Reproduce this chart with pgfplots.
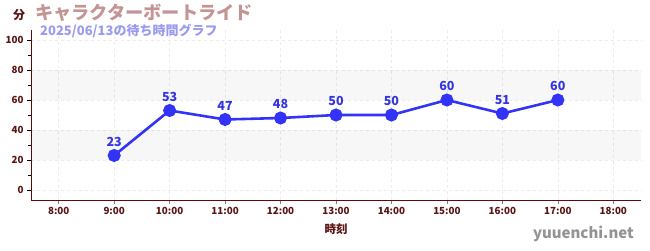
\documentclass[border=0pt]{standalone}
\usepackage{fontspec}
\setmainfont{Noto Sans CJK JP}
\usepackage{pgfplots}
\pgfplotsset{compat=1.18}
\definecolor{axred}{HTML}{5C0A0A}
\definecolor{ticklab}{HTML}{5A1414}
\definecolor{titlec}{HTML}{C49494}
\definecolor{subc}{HTML}{9A9AF0}
\definecolor{linec}{HTML}{3333F8}
\definecolor{labc}{HTML}{3535E0}
\definecolor{gridc}{HTML}{EBEBEB}
\begin{document}
\begin{tikzpicture}[x=1bp,y=1bp]
\path[use as bounding box] (0,0) rectangle (650,250);
\begin{axis}[
  at={(31bp,50bp)}, anchor=south west,
  width=610bp, height=170bp, scale only axis,
  xmin=7.5, xmax=18.5, ymin=-6.7, ymax=106.7,
  axis x line=bottom, axis y line=left,
  axis line style={-, axred, line width=0.9pt},
  xtick={8,...,18},
  xticklabels={8:00,9:00,10:00,11:00,12:00,13:00,14:00,15:00,16:00,17:00,18:00},
  ytick={0,20,40,60,80,100},
  minor ytick={10,30,50,70,90},
  tick align=outside,
  major tick length=4bp, minor tick length=3.5bp,
  xtick style={gray, line width=0.6pt},
  ytick style={black, line width=0.6pt},
  minor tick style={red!85!black, line width=0.6pt},
  ticklabel style={font=\bfseries\fontsize{9.8bp}{10bp}\selectfont, text=ticklab},
  /pgf/number format/assume math mode=true,
  grid=major,
  major grid style={gridc, dashed, line width=0.6pt},
  xlabel={\bfseries 時刻}, xlabel style={font=\fontsize{11.5bp}{12bp}\selectfont, text=ticklab, yshift=-2bp},
  clip=false,
]
\fill[black, fill opacity=0.03] (axis cs:7.5,20) rectangle (axis cs:18.5,40);
\fill[black, fill opacity=0.03] (axis cs:7.5,60) rectangle (axis cs:18.5,80);
\addplot[linec, line width=2.6pt, mark=*, mark size=5.2bp, mark options={solid, fill=linec, draw=none},
  nodes near coords, point meta=explicit symbolic,
  every node near coord/.style={anchor=south, yshift=4.5bp, font=\bfseries\fontsize{12.5bp}{12bp}\selectfont, text=labc}]
  table[meta=lab] {
  x y lab
  9 23 23
  10 53 53
  11 47 47
  12 48 48
  13 50 50
  14 50 50
  15 60 60
  16 51 51
  17 60 60
  };
\end{axis}
\node[anchor=center, text=ticklab, font=\bfseries\fontsize{12bp}{12bp}\selectfont] at (19,235) {分};
\node[anchor=west, inner sep=0, text=titlec, font=\bfseries\fontsize{18.2bp}{18bp}\selectfont] at (35,237) {キャラクターボートライド};
\node[anchor=west, inner sep=0, text=subc, font=\bfseries\fontsize{13bp}{13bp}\selectfont] at (40,219) {2025/06/13の待ち時間グラフ};
\node[anchor=east, inner sep=0, text=gray!85, font=\bfseries\fontsize{15bp}{15bp}\selectfont] at (634,16) {yuuenchi.net};
\end{tikzpicture}
\end{document}
